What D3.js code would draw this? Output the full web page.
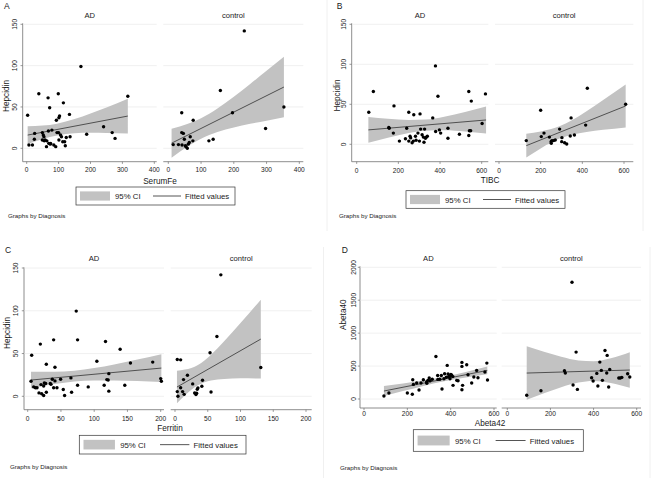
<!DOCTYPE html>
<html>
<head>
<meta charset="utf-8">
<script src="https://cdn.jsdelivr.net/npm/d3@7"></script>
<style>
body { margin: 0; background: #fff; }
text { font-family: "Liberation Sans", Arial, sans-serif; fill: #1a1a1a; }
</style>
</head>
<body>
<script>
// scatter data, [x, y]
var serumFeAD = [[3,40],[7,4],[18,4],[25,18],[24,11],[38,66],[49,10],[49,19],[52,16],[54,14],[55,9],[62,2],[63,9],[67,61],[68,21],[69,6],[72,49],[74,5],[79,22],[85,4],[91,2],[93,34],[95,19],[99,66],[100,19],[101,10],[101,37],[103,39],[106,16],[109,14],[113,8],[115,55],[119,8],[121,3],[124,13],[134,41],[136,14],[170,99],[188,17],[241,26],[268,19],[277,12],[317,63],[58,10],[75,6]];
var serumFeCtl = [[232,142],[159,70],[41,43],[196,43],[353,50],[297,24],[76,34],[41,19],[46,18],[15,4.5],[31,4.5],[42,4],[49,11],[54,2],[58,0],[61,5],[64,7],[67,14],[75,9],[124,9],[137,11],[52,3]];
var tibcAD = [[58,40],[80,66],[154,21],[156,20],[176,14],[179,48],[205,4],[234,7],[240,20],[250,40],[250,4],[256,10],[259,8],[266,2],[272,4],[274,37],[282,10],[285,5],[294,14],[301,4],[304,38],[307,19],[314,12],[320,9],[323,2.5],[326,19],[330,7.5],[334,9],[339,10],[365,33],[378,98],[379,16],[390,60],[397,18],[403,14],[438,20],[438,7.5],[493,12.5],[538,66],[538,11],[541,17],[547,17],[550,54],[602,26],[618,63]];
var tibcCtl = [[131,4.6],[200,42.5],[203,9.6],[216,14],[242,9],[250,3.3],[251,1.2],[254,4.6],[262,4.6],[270,5.4],[291,19],[302,8.3],[301,3.3],[315,2],[325,0.4],[342,10.4],[346,33],[362,11.7],[416,24],[424,70],[608,50]];
var ferritinAD = [[5,17.6],[6,48],[9,11],[11.6,10],[14,10],[17,4],[20,13.7],[19,61],[21,3],[24,1],[24,12],[25,15.6],[27,15],[28,37.5],[28,4.7],[34,15],[35,14],[37,20],[39,10],[39,66],[41,18],[41,34],[44,10],[49.5,20],[53.5,8],[55.5,1],[65,21.5],[66,4.7],[73,99.6],[75,66],[75,13],[91,11],[104,41],[115,13],[117,64],[119,19.5],[121,19],[122,26.5],[122,6],[139,55],[146,13],[154.5,39],[188,40],[200,20.7],[201,17.6]];
var ferritinCtl = [[70,142],[64,70],[53.5,51],[3.5,43],[8.6,42.6],[131,33.6],[19,24.6],[13,19.5],[27,14.5],[42,18.7],[41,11.7],[35,9.8],[34,8.2],[8.6,10],[3.5,5.5],[4.5,0],[11.6,5.5],[14,2.3],[30,3.9],[32,2],[33,3.5],[55,5]];
var abetaAD = [[92,45],[115,91],[200,91],[223,71],[225,293],[228,222],[243,242],[254,136],[263,242],[274,293],[289,258],[295,283],[301,318],[305,278],[332,646],[340,358],[341,298],[357,358],[360,152],[369,308],[372,384],[384,510],[388,379],[391,338],[397,308],[401,374],[411,207],[428,283],[434,278],[452,556],[452,495],[455,207],[452,141],[474,520],[480,369],[497,242],[507,333],[526,323],[520,434],[558,409],[567,545],[570,288],[380,330],[395,350],[405,360],[315,300],[350,300],[290,240],[410,340]];
var abetaCtl = [[300,1773],[90,56],[156,126],[319,712],[265,429],[269,394],[305,212],[325,146],[391,323],[398,273],[415,389],[420,197],[429,560],[436,434],[441,283],[453,737],[463,662],[461,394],[470,182],[475,449],[517,318],[524,318],[531,328],[558,384],[568,333]];

// 95% CI bands: x, lower, upper
var ciSerumAD_x = [3,50,95,150,200,250,317];
var ciSerumAD_lo = [5.2,11.3,15.6,18.1,18.7,18.5,18];
var ciSerumAD_hi = [26.8,27.5,29.8,35.3,42.1,49.5,60];
var ciSerumCtl_x = [10,60,100,150,200,250,300,353];
var ciSerumCtl_lo = [-11.3,2.6,11.7,19.8,25.3,29.7,33.4,37.6];
var ciSerumCtl_hi = [23.7,29.6,36.3,48,62.3,77.7,93.8,110.6];
var ciTibcAD_x = [56,150,250,330,420,520,621];
var ciTibcAD_lo = [2,8.3,14.1,17,17.5,16,13.6];
var ciTibcAD_hi = [34,31.9,30.5,31,34.5,40.4,47.2];
var ciTibcCtl_x = [131,200,250,290,350,420,500,608];
var ciTibcCtl_lo = [-16.6,-5.1,2.4,7.1,12,15.4,18.1,21.1];
var ciTibcCtl_hi = [13.2,16.1,19,22.5,30.2,41.4,55.3,74.7];
var ciFerAD_x = [5,40,70,100,130,165,201];
var ciFerAD_lo = [9.3,14.3,17.3,18.6,18.6,17.9,16.8];
var ciFerAD_hi = [28.7,28.7,29.9,33,37.2,42.9,49.2];
var ciFerCtl_x = [3,15,35,55,75,100,131];
var ciFerCtl_lo = [-8.2,1,12.9,18.5,20.3,21,20.9];
var ciFerCtl_hi = [29.8,31.2,36.7,48.7,64.3,85.6,112.9];
var ciAbAD_x = [92,180,270,370,470,569];
var ciAbAD_lo = [46,121.4,195.4,268.4,326.6,375];
var ciAbAD_hi = [196,236,280,338,411,493];
var ciAbCtl_x = [90,170,250,330,400,480,568];
var ciAbCtl_lo = [-12,87.1,178.4,249.2,273.3,243.6,170.6];
var ciAbCtl_hi = [800,716.3,640.4,585,574.3,619.4,709.4];

// fitted line end points [x0, x1], [y0, y1]
var fitSerumAD = [[3,317],[16,39]];
var fitSerumCtl = [[10,353],[6.2,74.1]];
var fitTibcAD = [[56,621],[18,30.4]];
var fitTibcCtl = [[131,608],[-1.7,47.9]];
var fitFerAD = [[5,201],[19,33]];
var fitFerCtl = [[3,131],[10.8,66.9]];
var fitAbAD = [[92,569],[121,434]];
var fitAbCtl = [[90,568],[394,440]];

var groups = ['AD', 'control'];
var ticks400 = [0,100,200,300,400];
var ticks600 = [0,200,400,600];
var ticks200 = [0,50,100,150,200];
var hepTicks = [0,50,100,150];
var abTicks = [0,500,1000,1500,2000];

function band(xs, lo, hi){
    return xs.map(function(x, i){ return {x: x, lo: lo[i], hi: hi[i]}; });
}

var panels = [
    {letter:'A', xTitle:'SerumFe', yTitle:'Hepcidin', xDomain:[0,400], xTicks:ticks400, yDomain:[0,150], yTicks:hepTicks,
     series:[{pts:serumFeAD, ci:band(ciSerumAD_x, ciSerumAD_lo, ciSerumAD_hi), fit:fitSerumAD},
             {pts:serumFeCtl, ci:band(ciSerumCtl_x, ciSerumCtl_lo, ciSerumCtl_hi), fit:fitSerumCtl}],
     lay:{axisX:22.7, top:23.3, bottom:161.7, yRange:[148.3,24.3],
          subs:[[22.7,156.7,26.7,154.3],[163.3,303.3,168.3,299.3]],
          xTickY:171.5, xTitle:[160,184], yTickX:17.3, yTitle:[8.5,96], subY:18, letter:[4,9.3],
          legend:[76,235,187,205], gbd:[8,218.3], frame:[327,231]}},
    {letter:'B', xTitle:'TIBC', yTitle:'Hepcidin', xDomain:[0,600], xTicks:ticks600, yDomain:[0,150], yTicks:hepTicks,
     series:[{pts:tibcAD, ci:band(ciTibcAD_x, ciTibcAD_lo, ciTibcAD_hi), fit:fitTibcAD},
             {pts:tibcCtl, ci:band(ciTibcCtl_x, ciTibcCtl_lo, ciTibcCtl_hi), fit:fitTibcCtl}],
     lay:{axisX:351.7, top:23.3, bottom:161.7, yRange:[144.3,24.3],
          subs:[[351.7,488.3,356.7,481.7],[495,633.3,499,624]],
          xTickY:172.5, xTitle:[490,183.3], yTickX:346, yTitle:[340,95.5], subY:18, letter:[336.7,9],
          legend:[406,565,190.7,208.3], gbd:[339,218.3], frame:[643,231]}},
    {letter:'C', xTitle:'Ferritin', yTitle:'Hepcidin', xDomain:[0,200], xTicks:ticks200, yDomain:[0,150], yTicks:hepTicks,
     series:[{pts:ferritinAD, ci:band(ciFerAD_x, ciFerAD_lo, ciFerAD_hi), fit:fitFerAD},
             {pts:ferritinCtl, ci:band(ciFerCtl_x, ciFerCtl_lo, ciFerCtl_hi), fit:fitFerCtl}],
     lay:{axisX:24, top:267.3, bottom:409.7, yRange:[396.3,268],
          subs:[[24,164,27.7,160.7],[170.7,311.7,175,306]],
          xTickY:420.5, xTitle:[170,431.3], yTickX:17.7, yTitle:[10,333], subY:261.3, letter:[5,253],
          legend:[79.3,246,435.3,454], gbd:[10,468.7], frame:[323.5,478]}},
    {letter:'D', xTitle:'Abeta42', yTitle:'Abeta40', xDomain:[0,600], xTicks:ticks600, yDomain:[0,2000], yTicks:abTicks,
     series:[{pts:abetaAD, ci:band(ciAbAD_x, ciAbAD_lo, ciAbAD_hi), fit:fitAbAD},
             {pts:abetaCtl, ci:band(ciAbCtl_x, ciAbCtl_lo, ciAbCtl_hi), fit:fitAbCtl}],
     lay:{axisX:360, top:266.3, bottom:408, yRange:[399,267.3],
          subs:[[360,496.7,364,494],[501.7,641,507.3,636.7]],
          xTickY:416.3, xTitle:[490,426.3], yTickX:355.7, yTitle:[345.7,314.7], subY:261.3, letter:[341.7,253],
          legend:[413.3,583.3,429.7,451.3], gbd:[340,469.7], frame:[650,478]}}
];

var BAND = '#c2c2c2';
var AXIS = '#707070';
var GRID = '#ececec';

var svg = d3.select('body').append('svg')
    .attr('width', 652)
    .attr('height', 478);

panels.forEach(function(p){
    var L = p.lay;
    var g = svg.append('g');
    var y = d3.scaleLinear().domain(p.yDomain).range(L.yRange);

    // faint edge of the pasted panel image
    g.append('line').attr('x1', L.frame[0]).attr('x2', L.frame[0])
        .attr('y1', L.frame[1] - 231).attr('y2', L.frame[1])
        .attr('stroke', '#f0f0f0').attr('stroke-width', 1);

    // panel letter
    g.append('text').attr('x', L.letter[0]).attr('y', L.letter[1])
        .attr('font-size', 8.5).text(p.letter);

    // y axis
    g.append('line').attr('x1', L.axisX).attr('x2', L.axisX)
        .attr('y1', L.top).attr('y2', L.bottom)
        .attr('stroke', AXIS).attr('stroke-width', 0.8);
    g.selectAll('.ytick').data(p.yTicks).enter().append('line')
        .attr('x1', L.axisX - 2.2).attr('x2', L.axisX)
        .attr('y1', function(d){ return y(d); }).attr('y2', function(d){ return y(d); })
        .attr('stroke', AXIS).attr('stroke-width', 0.7);
    g.selectAll('.ylab').data(p.yTicks).enter().append('text')
        .attr('font-size', 6.6)
        .attr('text-anchor', 'middle')
        .attr('transform', function(d){ return 'translate(' + L.yTickX + ',' + y(d) + ') rotate(-90)'; })
        .text(function(d){ return d; });
    g.append('text')
        .attr('font-size', 8.2)
        .attr('text-anchor', 'middle')
        .attr('transform', 'translate(' + L.yTitle[0] + ',' + L.yTitle[1] + ') rotate(-90)')
        .text(p.yTitle);

    p.series.forEach(function(s, k){
        var sub = L.subs[k];
        var x = d3.scaleLinear().domain(p.xDomain).range([sub[2], sub[3]]);

        // grid
        g.selectAll('.grid' + k).data(p.yTicks).enter().append('line')
            .attr('x1', k === 0 ? L.axisX + 0.5 : sub[0]).attr('x2', sub[1])
            .attr('y1', function(d){ return y(d); }).attr('y2', function(d){ return y(d); })
            .attr('stroke', GRID).attr('stroke-width', 0.8);

        // CI band
        var area = d3.area()
            .x(function(d){ return x(d.x); })
            .y0(function(d){ return y(d.lo); })
            .y1(function(d){ return y(d.hi); })
            .curve(d3.curveMonotoneX);
        g.append('path').datum(s.ci).attr('d', area).attr('fill', BAND);

        // fitted line
        g.append('line')
            .attr('x1', x(s.fit[0][0])).attr('x2', x(s.fit[0][1]))
            .attr('y1', y(s.fit[1][0])).attr('y2', y(s.fit[1][1]))
            .attr('stroke', '#2a2a2a').attr('stroke-width', 0.75);

        // points
        g.selectAll('.pt' + k).data(s.pts).enter().append('circle')
            .attr('cx', function(d){ return x(d[0]); })
            .attr('cy', function(d){ return y(d[1]); })
            .attr('r', 1.7)
            .attr('fill', '#000');

        // x axis
        g.append('line').attr('x1', sub[0]).attr('x2', sub[1])
            .attr('y1', L.bottom).attr('y2', L.bottom)
            .attr('stroke', AXIS).attr('stroke-width', 0.8);
        g.selectAll('.xtick' + k).data(p.xTicks).enter().append('line')
            .attr('x1', function(d){ return x(d); }).attr('x2', function(d){ return x(d); })
            .attr('y1', L.bottom).attr('y2', L.bottom + 2.2)
            .attr('stroke', AXIS).attr('stroke-width', 0.7);
        g.selectAll('.xlab' + k).data(p.xTicks).enter().append('text')
            .attr('x', function(d){ return x(d); }).attr('y', L.xTickY)
            .attr('font-size', 6.6).attr('text-anchor', 'middle')
            .text(function(d){ return d; });

        // subpanel title
        g.append('text').attr('x', (sub[0] + sub[1]) / 2).attr('y', L.subY)
            .attr('font-size', 7.6).attr('text-anchor', 'middle')
            .text(groups[k]);
    });

    // x title
    g.append('text').attr('x', L.xTitle[0]).attr('y', L.xTitle[1])
        .attr('font-size', 8.2).attr('text-anchor', 'middle')
        .text(p.xTitle);

    // legend
    var lg = L.legend;
    var kk = (lg[1] - lg[0]) / 159;
    var cy = (lg[2] + lg[3]) / 2;
    g.append('rect').attr('x', lg[0]).attr('y', lg[2])
        .attr('width', lg[1] - lg[0]).attr('height', lg[3] - lg[2])
        .attr('fill', '#fff').attr('stroke', '#333').attr('stroke-width', 0.7);
    g.append('rect').attr('x', lg[0] + 4 * kk).attr('y', cy - 4.6 * kk)
        .attr('width', 30 * kk).attr('height', 9.2 * kk)
        .attr('fill', BAND);
    g.append('text').attr('x', lg[0] + 39 * kk).attr('y', cy + 3)
        .attr('font-size', 7.8).text('95% CI');
    g.append('line').attr('x1', lg[0] + 77 * kk).attr('x2', lg[0] + 105 * kk)
        .attr('y1', cy).attr('y2', cy)
        .attr('stroke', '#2a2a2a').attr('stroke-width', 0.8);
    g.append('text').attr('x', lg[0] + 109 * kk).attr('y', cy + 3)
        .attr('font-size', 7.8).text('Fitted values');

    // note
    g.append('text').attr('x', L.gbd[0]).attr('y', L.gbd[1])
        .attr('font-size', 6.2).text('Graphs by Diagnosis');
});
</script>
</body>
</html>
